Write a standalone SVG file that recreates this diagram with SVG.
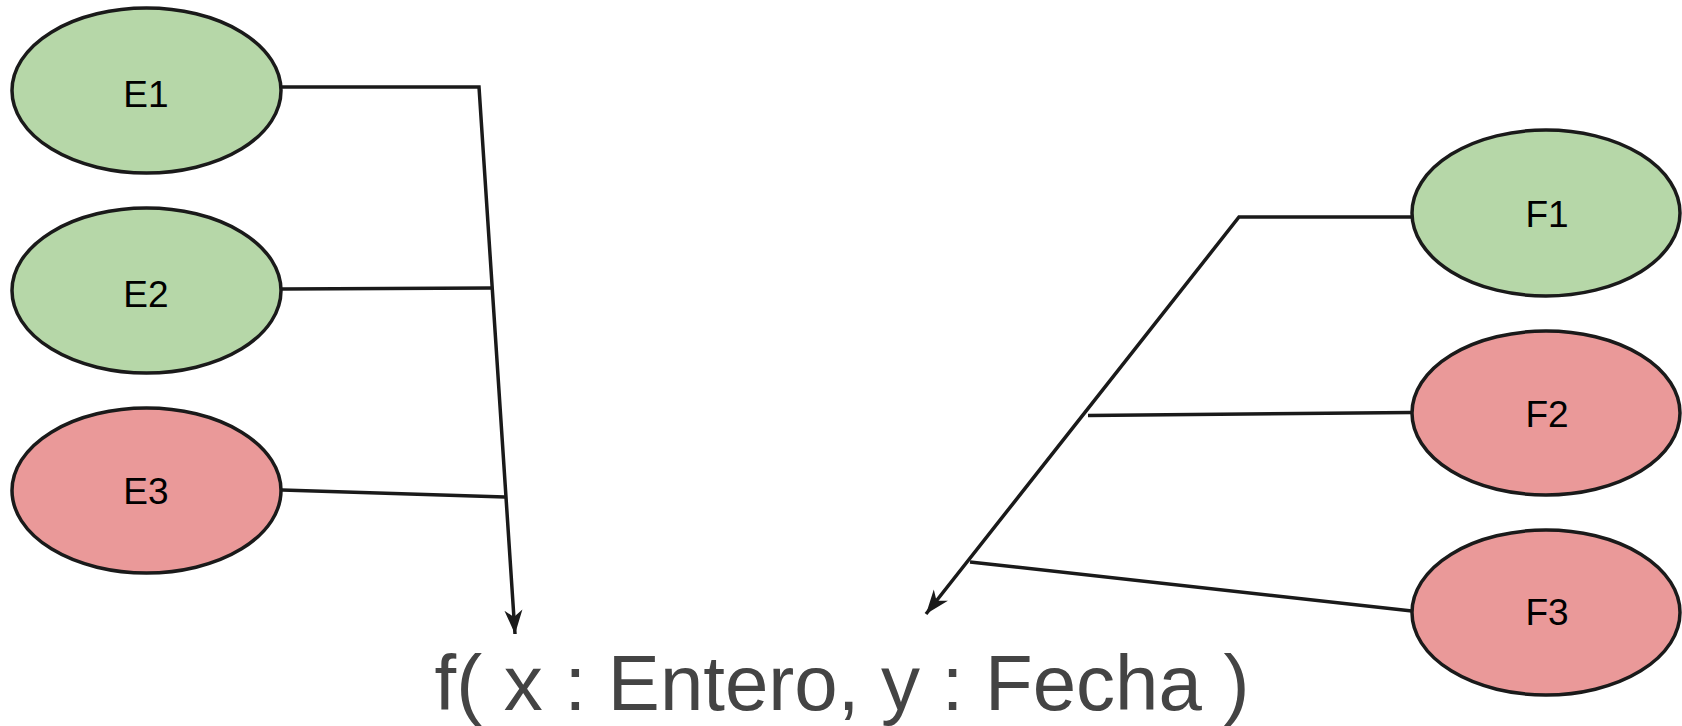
<svg xmlns="http://www.w3.org/2000/svg" width="1682" height="726" viewBox="0 0 1682 726">
<style>
.node ellipse{stroke:#1a1a1a;stroke-width:3.5}
.green{fill:#b6d7a8}
.red{fill:#ea9999}
.lbl{font-family:"Liberation Sans",Arial,sans-serif;font-size:37px;fill:#000;text-anchor:middle}
.edge{fill:none;stroke:#1a1a1a;stroke-width:3.5}
.formula{font-family:"Liberation Sans",Arial,sans-serif;font-size:78px;fill:#444;text-anchor:middle}
</style>
<defs>
<marker id="arr" markerUnits="userSpaceOnUse" markerWidth="26" markerHeight="20" refX="24" refY="10" orient="auto" viewBox="0 0 26 20">
<path d="M0,1 L24,10 L0,19 L7,10 Z" fill="#1a1a1a"/>
</marker>
</defs>
<rect width="1682" height="726" fill="#fff"/>
<g id="connectors">
<polyline class="edge" points="282,87 479,87 515,634" marker-end="url(#arr)"/>
<line class="edge" x1="282" y1="289" x2="492" y2="288"/>
<line class="edge" x1="282" y1="490" x2="505" y2="497"/>
<polyline class="edge" points="1412,217 1239,217 926,614" marker-end="url(#arr)"/>
<line class="edge" x1="1088" y1="415.5" x2="1412" y2="412.5"/>
<line class="edge" x1="970" y1="562" x2="1412" y2="611"/>
</g>
<g id="E1" class="node"><ellipse class="green" cx="146.5" cy="90.5" rx="134.5" ry="82.5"/><text class="lbl" x="146" y="107">E1</text></g>
<g id="E2" class="node"><ellipse class="green" cx="146.5" cy="290.5" rx="134.5" ry="82.5"/><text class="lbl" x="146" y="307">E2</text></g>
<g id="E3" class="node"><ellipse class="red" cx="146.5" cy="490.5" rx="134.5" ry="82.5"/><text class="lbl" x="146" y="504">E3</text></g>
<g id="F1" class="node"><ellipse class="green" cx="1546" cy="213" rx="134" ry="83"/><text class="lbl" x="1547" y="227">F1</text></g>
<g id="F2" class="node"><ellipse class="red" cx="1546" cy="413" rx="134" ry="82"/><text class="lbl" x="1547" y="427">F2</text></g>
<g id="F3" class="node"><ellipse class="red" cx="1546" cy="612.5" rx="134" ry="82.5"/><text class="lbl" x="1547" y="625">F3</text></g>
<g id="formula"><text class="formula" x="842" y="710">f( x : Entero, y : Fecha )</text></g>
</svg>
